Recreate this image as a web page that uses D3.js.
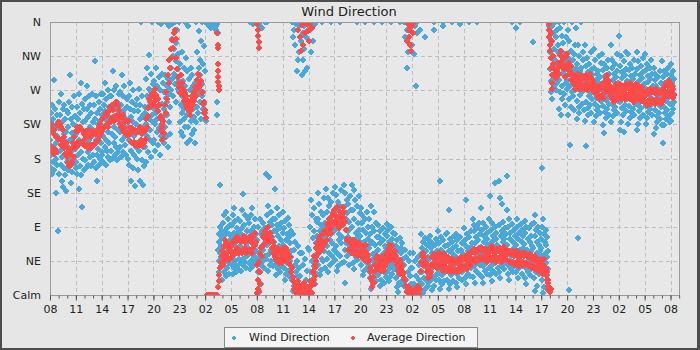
<!DOCTYPE html>
<html><head><meta charset="utf-8">
<script src="https://cdn.jsdelivr.net/npm/d3@7"></script>
<style>html,body{margin:0;padding:0;background:#4d4d4d;}svg{display:block;font-family:"DejaVu Sans",sans-serif;}</style>
</head><body><svg id="chart" width="700" height="350"></svg>
<script>
// ---- data ----
const titleText = "Wind Direction";
const seriesNames = ["Wind Direction", "Average Direction"];
const dirLabels = ["Calm","NE","E","SE","S","SW","W","NW","N"];
const dirValues = [0,45,90,135,180,225,270,315,360];
const tickHours = [0,3,6,9,12,15,18,21,24,27,30,33,36,39,42,45,48,51,54,57,60,63,66,69,72];
const tickLabels = ["08","11","14","17","20","23","02","05","08","11","14","17","20","23","02","05","08","11","14","17","20","23","02","05","08"];
const startHour = 0, endAxisHour = 73.1, dataEndHour = 72.45;

// average direction, one value every 5 minutes from 08:00 day 1 (12 per hour)
const avgDir = [
222,196,226,188,214,186,218,192,208,188,224,206,
228,206,226,198,222,204,218,194,208,186,200,182,
194,174,190,170,186,172,194,176,200,182,208,194,
216,200,222,198,218,200,222,202,218,200,216,204,
212,196,216,198,210,194,218,198,208,194,212,198,
216,198,212,200,216,202,218,204,222,210,226,214,
232,216,234,220,236,222,240,226,238,222,242,228,
248,232,250,234,244,230,252,236,254,236,250,232,
244,226,238,222,234,216,238,220,228,214,230,214,
228,210,230,212,220,202,220,200,218,202,216,198,
214,196,218,200,218,198,222,204,214,196,218,200,
216,206,232,222,246,236,258,248,264,254,262,250,
266,254,272,258,264,248,258,242,250,234,236,218,
222,206,230,214,250,240,268,258,290,280,310,300,
324,312,336,326,346,336,350,338,312,298,288,274,
280,266,290,276,280,264,270,256,266,250,262,246,
256,242,250,238,256,244,262,250,268,256,274,262,
284,272,292,280,290,276,282,266,268,252,254,240,
244,234,0,0,0,0,0,0,0,0,0,0,
0,0,0,0,0,0,10,18,26,36,44,52,
58,40,64,46,72,54,68,50,62,46,58,48,
64,50,68,54,72,58,70,56,76,62,72,56,
72,58,70,56,74,60,78,62,70,56,74,60,
74,60,76,60,70,56,76,62,80,66,82,70,
40,20,8,4,15,30,62,52,76,64,80,68,
84,72,88,78,90,76,82,70,76,62,70,56,
64,50,60,46,62,48,56,42,60,46,56,42,
62,50,58,46,62,50,60,48,54,42,50,38,
30,36,18,24,8,14,3,10,14,18,6,2,
4,10,12,2,2,8,16,10,6,2,3,10,
8,4,18,12,4,2,30,20,52,40,62,50,
68,56,74,62,78,64,72,60,80,66,84,70,
86,72,94,80,100,88,96,82,104,90,108,94,
112,98,104,94,116,102,100,88,110,96,104,92,
116,102,110,96,86,72,74,60,70,60,72,62,
68,56,72,58,66,54,70,58,64,52,68,56,
66,52,62,50,64,52,58,46,66,52,54,44,
46,36,30,22,18,10,24,16,40,32,48,38,
52,40,46,34,44,32,50,40,42,32,48,38,
54,44,60,50,66,54,58,46,64,52,56,46,
58,48,52,40,44,32,36,28,46,36,40,28,
30,22,20,12,12,4,6,2,10,4,2,6,
5,2,2,6,8,4,4,10,12,6,3,8,
44,32,52,40,56,44,50,38,42,30,34,22,
32,24,40,30,50,38,54,42,52,40,48,36,
52,38,56,42,50,36,46,32,54,40,48,36,
44,32,50,36,46,32,42,30,48,36,44,32,
46,32,42,30,48,36,44,32,50,38,46,34,
48,36,52,40,46,34,54,42,50,38,56,44,
58,46,61,48,56,44,60,48,58,46,62,50,
59,47,62,50,58,46,61,49,56,44,60,48,
62,50,58,46,64,50,60,48,56,44,61,49,
58,46,62,50,56,44,60,48,63,51,59,47,
60,46,56,44,58,44,54,42,58,44,52,40,
54,42,58,44,50,38,56,44,52,40,55,43,
52,40,56,42,53,39,50,38,54,40,48,36,
50,38,46,34,52,38,44,32,48,36,42,30,
46,34,40,28,48,36,36,26,30,20,16,8,
4,8,345,335,315,305,298,292,290,286,296,300,
306,292,316,302,322,308,312,298,302,288,314,300,
318,304,306,292,296,284,302,290,290,278,284,272,
288,276,292,280,286,272,290,278,284,272,288,276,
286,272,290,278,284,270,289,277,292,278,285,271,
282,268,278,266,274,262,276,262,270,258,274,262,
278,264,274,260,280,268,286,274,290,278,282,268,
276,262,270,258,268,254,274,260,278,266,272,258,
274,262,278,266,272,258,276,264,270,258,278,264,
276,262,272,258,280,266,274,260,268,254,276,262,
278,264,272,258,276,262,270,256,274,260,268,254,
268,254,264,250,270,256,266,252,272,258,268,254,
270,256,266,252,272,258,266,254,268,256,266,252,
268,256,272,260,276,264,280,268,276,262,282,268,
278,266,274,260,272,264
];
// extra average readings where the direction swung quickly: [hour, degrees]
const avgSpikes = [
[12.95,235],[12.97,225],[13.0,215],[13.03,205],
[19.42,345],[19.44,330],[19.46,326],[19.48,305],[19.5,296],[19.52,288],[19.54,281],[19.56,275],[19.58,270],
[24.05,358],[24.1,350],[24.15,342],[24.2,333],[24.25,326],[24.05,2],[24.12,20],[24.2,32],[24.28,44],[24.35,54],
[28.8,350],[29.0,340],[29.1,322],[29.2,356],[29.4,330],[29.5,360],[29.6,345],[29.8,358],[29.9,348],[30.0,335],[30.2,358],[30.4,352],
[30.6,15],[30.7,25],[30.75,35],[30.85,45],
[41.45,335],[41.5,358],[41.6,350],[41.7,340],[41.8,330],[41.9,322],[42.0,355],[42.1,345],[42.2,360],
[57.7,20],[57.75,12],[57.8,6],[57.85,358],[57.9,350],[57.95,340],[58.0,330],[58.05,322],[58.1,312],[58.15,300],[58.2,290],[58.25,280],[58.3,272]
];
// wind direction readings, grouped by hour from 08:00 day 1 (in time order within the hour)
const windDir = [
[205,168,240,185,226,160,250,195,175,232,212,283,165,245,190,220,134,200,180,238,172,210,84,228,188],
[220,160,255,190,238,172,205,265,150,228,182,245,198,142,212,168,250,186,232,158,215,137,202,176,242],
[196,240,165,222,178,255,205,170,290,232,188,148,214,162,248,182,226,200,174,262,210,192,236,168],
[212,176,248,195,160,232,185,265,205,140,240,170,222,280,188,158,252,200,116,228,180,215,245,165],
[230,178,258,200,168,245,215,275,188,235,172,262,205,222,182,250,195,240,170,210,265,185,228],
[218,175,250,198,308,232,168,262,205,185,240,150,225,192,255,172,210,245,180,230,200,265,188],
[238,185,265,210,175,250,222,280,195,242,172,258,205,230,190,270,215,182,248,200,235,178,262],
[228,190,262,212,180,250,235,295,200,270,222,185,245,208,275,195,238,178,255,218,242,188,265],
[235,195,268,215,182,250,228,290,205,262,240,188,222,275,198,245,210,232,185,258,218,248],
[222,180,262,205,172,245,215,280,190,235,150,255,200,228,168,270,210,185,242,144,218,195,250],
[225,180,258,200,165,242,215,272,190,232,150,250,205,360,178,262,212,145,238,195,222,170,248],
[240,195,285,225,176,262,210,300,248,188,272,232,316,205,255,218,292,182,268,238,360,200,278,228],
[245,205,282,225,190,265,240,300,215,275,232,360,198,258,288,220,250,185,270,236,358,210,292],
[252,215,280,235,200,268,245,290,222,260,360,208,275,238,255,195,285,228,265,355,212,248,272],
[300,270,338,285,358,315,262,345,292,325,278,360,308,255,332,288,350,272,318,298,360,282],
[268,228,305,250,215,290,240,320,262,210,282,245,300,232,360,275,222,312,258,200,295,238,355],
[255,222,285,240,205,270,248,300,230,262,212,290,245,275,218,258,235,280,200,265,228,360],
[282,248,320,265,240,300,272,348,255,310,290,232,335,262,360,278,245,305,268,328,252,295,360],
[240,230,360,358,360,355,360,352,359,360,356,358],
[360,358,360,352,356,360,355,360,350,358,255,238,360,345,60,80,45,70,30,55,90,145,38,65,50,75,20,85],
[62,95,40,78,30,105,55,85,45,70,25,110,50,88,35,66,100,58,42,80,28,72,92,48,60],
[58,92,40,75,28,105,52,82,35,115,65,45,98,30,70,88,55,38,78,62,100,48,85,33],
[64,98,42,80,32,112,55,88,133,48,72,38,92,60,105,44,76,35,85,52,68,100,58],
[62,95,42,78,34,360,105,55,85,46,115,70,38,358,90,52,66,100,44,80,58,74,40],
[72,360,30,90,48,358,5,100,56,355,15,80,40,352,64,85,45,95,60,35,75,52,88,360],
[88,160,48,105,66,360,32,118,72,155,54,96,40,80,60,110,45,92,58,76,38,100,64,84],
[70,140,40,100,58,85,26,115,46,92,34,78,52,64,105,44,88,30,72,56,95,38,62,82],
[66,110,36,88,54,20,98,48,72,28,80,42,60,102,32,76,50,92,24,68,45,85,58],
[50,360,20,80,340,5,60,350,12,70,330,40,30,358,295,45,25,310,65,8,355,35,320,55],
[25,360,8,335,55,290,3,345,40,310,15,355,325,295,360,48,20,340,10,300,32,358,62,350],
[60,360,10,90,350,30,125,320,45,105,20,335,75,360,115,38,85,15,358,52,100,68,28,96],
[78,135,40,100,55,120,26,85,62,110,33,92,48,70,360,105,45,88,58,128,36,75,95,66],
[88,140,48,110,64,128,30,95,56,118,40,102,72,80,360,122,52,98,68,135,44,84,106,60],
[96,143,46,112,64,132,32,88,56,122,38,104,72,80,360,118,52,92,68,138,42,100,76,108],
[92,145,44,116,60,135,16,100,68,125,52,108,76,84,120,40,96,64,130,56,88,112,72],
[90,145,42,112,58,138,34,100,66,125,50,82,74,360,118,46,95,62,130,54,86,108,70],
[78,115,40,95,55,105,26,86,48,70,32,62,360,100,44,82,58,110,36,74,90,52,66],
[62,100,22,80,38,117,8,70,46,90,14,54,30,110,360,85,42,66,18,95,50,76,26,58],
[60,92,26,76,38,84,12,68,44,52,20,32,360,88,48,72,16,56,30,80,64,40,24],
[62,94,30,78,42,86,18,70,48,55,24,36,360,90,52,74,28,66,40,82,58,34,46],
[52,80,22,65,34,72,10,58,40,4,46,16,28,360,75,44,62,14,55,30,68,38,20,48],
[40,360,12,60,340,20,50,350,5,300,30,320,360,45,8,55,25,35,15,330],
[35,360,8,55,318,15,45,355,3,275,25,345,360,50,12,40,20,30,6,350],
[54,80,15,62,30,70,3,46,22,38,8,340,75,42,58,18,66,35,50,12,72,26],
[48,78,18,62,30,70,6,55,36,42,24,12,350,360,66,40,52,20,74,28,58,44,34],
[52,85,20,68,32,150,8,60,38,76,14,45,26,355,360,72,42,56,18,64,30,80,48,36],
[50,82,20,66,32,112,8,58,38,74,14,44,26,360,70,40,54,18,62,30,78,46,34],
[52,80,16,65,28,72,10,58,34,46,22,40,358,360,76,44,60,20,68,30,54,38,48],
[52,88,22,72,34,125,15,65,40,80,28,46,58,360,76,44,62,25,84,36,55,68,48],
[62,100,24,84,38,92,16,68,44,76,32,56,50,360,88,46,72,28,95,40,60,80,52],
[63,115,24,86,38,95,16,70,44,78,32,56,50,90,42,74,28,82,48,66,36,58,100],
[63,130,26,86,38,95,18,70,44,78,32,56,50,148,90,42,74,28,82,48,66,36,58],
[63,150,30,92,44,128,22,78,50,120,38,85,56,70,96,48,74,34,88,60,42,80,52,112],
[66,157,28,90,40,100,20,74,46,82,34,58,52,360,94,44,70,30,86,62,38,78,54],
[66,352,30,90,42,100,22,74,48,82,36,60,54,360,94,44,70,28,86,62,38,78,52],
[67,98,22,82,36,90,15,60,42,74,30,54,48,88,40,70,26,78,58,34,64,46,94],
[62,334,22,95,42,105,5,78,48,86,30,70,55,12,36,90,44,66,28,82,58,38,74,52],
[62,167,20,90,38,100,3,80,46,10,70,54,30,86,42,66,26,76,50,34,58,360,355,340,360,320],
[298,360,268,335,282,355,258,315,290,345,275,325,305,360,310,285,340,270,300,350,280,320,292,330],
[284,360,245,322,268,352,237,302,276,342,258,312,292,332,360,296,265,318,250,305,280,340,272,310],
[284,350,238,312,258,7,335,276,198,322,248,302,268,292,360,310,262,295,244,318,280,330,270,300],
[280,352,232,305,256,75,330,272,240,315,248,295,264,287,360,300,252,290,268,320,276,310,244,284],
[278,330,230,302,254,196,312,270,238,294,246,286,262,305,250,282,266,320,240,290,258,298,274],
[276,325,228,300,252,310,236,284,260,292,244,268,296,248,280,264,315,240,288,256,306,272],
[273,318,224,297,249,305,213,281,241,289,233,265,257,300,245,285,260,310,238,292,252,276,268],
[276,330,228,300,252,310,236,284,244,292,260,268,304,248,288,264,318,240,296,256,280,272],
[278,342,218,302,254,315,228,286,246,294,238,270,262,215,308,250,290,266,320,242,298,258,282],
[273,318,225,297,249,305,233,281,241,289,257,265,300,245,285,260,310,238,292,252,276,268],
[274,320,218,298,250,308,226,282,242,290,234,266,258,302,246,286,262,312,238,294,254,278,270],
[273,318,225,297,249,305,233,281,241,289,257,265,300,245,285,260,310,238,292,252,276,268],
[268,300,212,284,244,292,220,276,236,260,228,252,288,240,270,256,296,232,280,248,264,224],
[272,308,200,288,248,296,224,280,240,264,232,256,292,244,276,260,300,236,284,252,268,228],
[270,305,230,290,250,280,240,260,275,245,295,265,255,285]
];

// ---- chart ----
const W = 700, H = 350;
const M = {left:50, right:680, top:22, bottom:295};
const blue = "#4aa7d9", red = "#ff4a4a";
const svg = d3.select("#chart");

svg.append("rect").attr("width",W).attr("height",H).attr("fill","#4d4d4d");
svg.append("rect").attr("x",2).attr("y",2).attr("width",695).attr("height",346).attr("fill","#e6e6e6");

const x = d3.scaleLinear().domain([startHour,endAxisHour]).range([M.left,M.right]);
const y = d3.scaleLinear().domain([0,360]).range([M.bottom,M.top]);

svg.append("rect").attr("x",M.left).attr("y",M.top).attr("width",M.right-M.left).attr("height",M.bottom-M.top).attr("fill","#e8e8e8");

// grid
const grid = svg.append("g").attr("stroke","#bdbdbd").attr("stroke-width",1).attr("stroke-dasharray","4,3").attr("shape-rendering","crispEdges");
grid.selectAll("line.v").data(tickHours).join("line").attr("class","v")
  .attr("x1",d=>Math.round(x(d))+0.5).attr("x2",d=>Math.round(x(d))+0.5).attr("y1",M.top).attr("y2",M.bottom);
grid.selectAll("line.h").data(dirValues).join("line").attr("class","h")
  .attr("x1",M.left).attr("x2",M.right).attr("y1",d=>Math.round(y(d))+0.5).attr("y2",d=>Math.round(y(d))+0.5);

// pixel diamond marker (6x6)
const marker = "M-1,-3H1V-2H2V-1H3V1H2V2H1V3H-1V2H-2V1H-3V-1H-2V-2H-1Z";
const windPts = [];
windDir.forEach((vals,h)=>{
  const span = Math.min(1, dataEndHour - h);
  vals.forEach((v,i)=>windPts.push([h + (i+0.5)/vals.length*span, v]));
});
const avgPts = avgDir.map((v,i)=>[i/12, v]).concat(avgSpikes);

svg.append("clipPath").attr("id","pc").append("rect")
  .attr("x",M.left).attr("y",M.top).attr("width",M.right-M.left).attr("height",M.bottom-M.top+1);
const pg = svg.append("g").attr("clip-path","url(#pc)").attr("shape-rendering","crispEdges");
pg.append("g").selectAll("path").data(windPts).join("path")
  .attr("d",marker).attr("fill",blue)
  .attr("transform",d=>`translate(${Math.round(x(d[0]))},${Math.round(y(d[1]))})`);
pg.append("g").selectAll("path").data(avgPts).join("path")
  .attr("d",marker).attr("fill",red)
  .attr("transform",d=>`translate(${Math.round(x(d[0]))},${Math.round(y(d[1]))})`);

// frame
svg.append("rect").attr("x",M.left+0.5).attr("y",M.top+0.5).attr("width",M.right-M.left-1).attr("height",M.bottom-M.top)
  .attr("fill","none").attr("stroke","#9a9a9a");

// x axis
const minorHours = d3.range(0,74,1);
const xMinor = svg.append("g").attr("transform",`translate(0,${M.bottom+0.5})`)
  .call(d3.axisBottom(x).tickValues(minorHours).tickSize(3).tickFormat(""));
xMinor.select(".domain").remove();
xMinor.selectAll("line").attr("stroke","#555");
const xAxis = svg.append("g").attr("transform",`translate(0,${M.bottom+0.5})`)
  .call(d3.axisBottom(x).tickValues(tickHours).tickSize(5).tickPadding(5).tickFormat((d,i)=>tickLabels[i]));
xAxis.select(".domain").remove();
xAxis.selectAll("line").attr("stroke","#555");
xAxis.selectAll("text").attr("font-size",11).attr("fill","#222").attr("font-family","DejaVu Sans");

// y axis
const yAxis = svg.append("g").attr("transform",`translate(${M.left},0)`)
  .call(d3.axisLeft(y).tickValues(dirValues).tickSize(0).tickPadding(9).tickFormat((d,i)=>dirLabels[i]));
yAxis.select(".domain").remove();
yAxis.selectAll("text").attr("font-size",11).attr("fill","#222").attr("font-family","DejaVu Sans");

// title
svg.append("text").attr("x",349).attr("y",16).attr("text-anchor","middle")
  .attr("font-size",13).attr("fill","#222").text(titleText);

// legend
const lg = svg.append("g");
lg.append("rect").attr("x",224.5).attr("y",327.5).attr("width",253).attr("height",20).attr("fill","#f4f4f4").attr("stroke","#8a8a8a");
const smallMarker = "M-1,-2H1V-1H2V1H1V2H-1V1H-2V-1H-1Z";
lg.append("path").attr("d",smallMarker).attr("fill",blue).attr("shape-rendering","crispEdges").attr("transform","translate(234,338)");
lg.append("text").attr("x",249).attr("y",341).attr("font-size",11).attr("fill","#222").text(seriesNames[0]);
lg.append("path").attr("d",smallMarker).attr("fill",red).attr("shape-rendering","crispEdges").attr("transform","translate(353,338)");
lg.append("text").attr("x",367).attr("y",341).attr("font-size",11).attr("fill","#222").text(seriesNames[1]);
</script></body></html>
